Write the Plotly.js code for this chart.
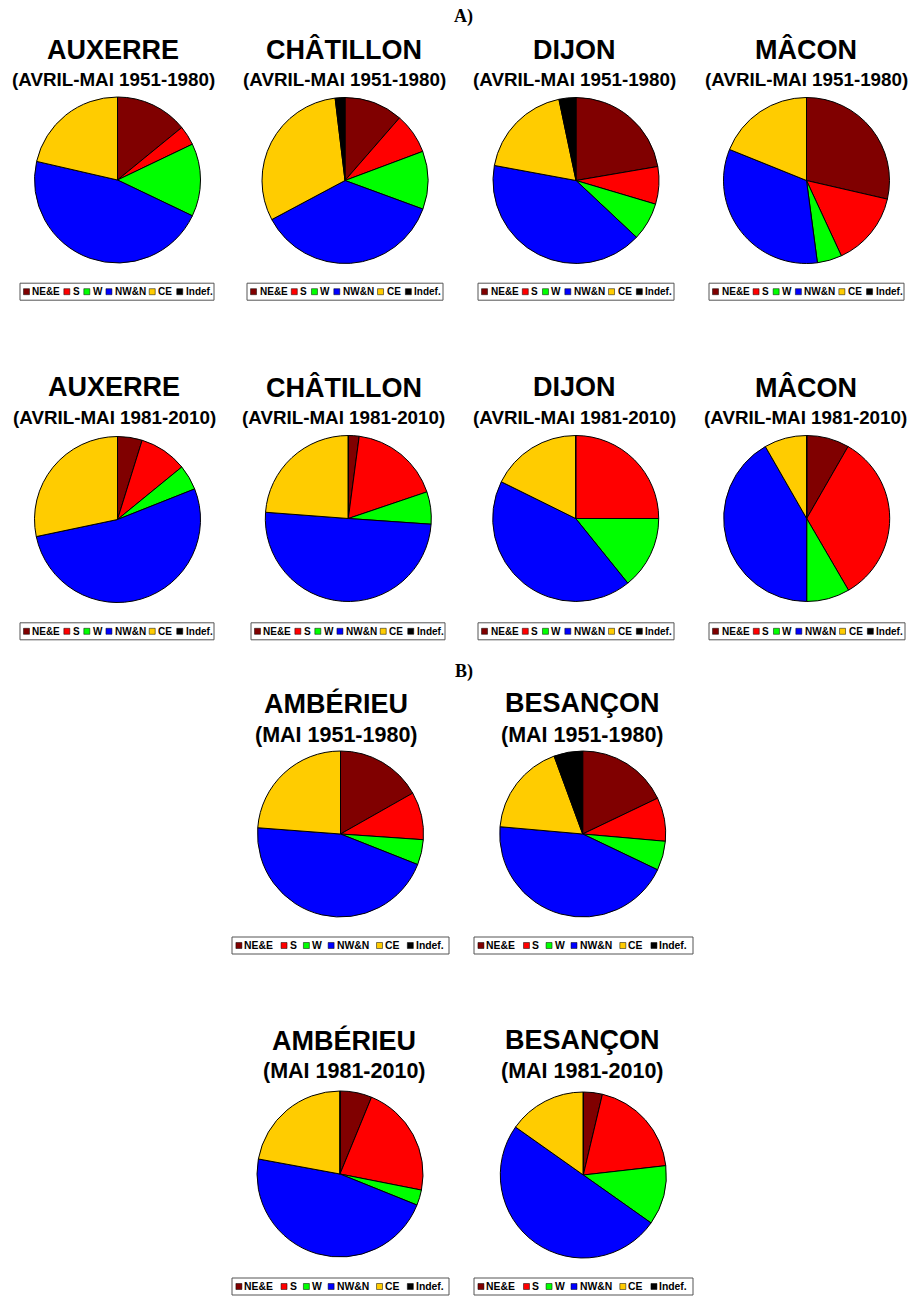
<!DOCTYPE html>
<html>
<head>
<meta charset="utf-8">
<script src="https://cdn.plot.ly/plotly-3.0.1.min.js"></script>
<style>html,body{margin:0;padding:0;background:#fff;}#chart{width:913px;height:1296px;}</style>
</head>
<body>
<div id="chart"></div>
<script>
// ---- DATA (percent of situations) ----
const categories = ['NE&E', 'S', 'W', 'NW&N', 'CE', 'Indef.'];
const colors = ['#800000', '#FF0000', '#00FF00', '#0000FF', '#FFCC00', '#000000'];

const auxerre_1951_1980   = [14.1, 3.8, 14.2, 46.5, 21.4, 0];
const chatillon_1951_1980 = [11.4, 7.9, 11.3, 36.6, 30.9, 1.9];
const dijon_1951_1980     = [22.3, 7.3, 7.4, 40.9, 18.8, 3.3];
const macon_1951_1980     = [28.6, 14.5, 4.8, 33.2, 18.9, 0];

const auxerre_1981_2010   = [4.8, 9.3, 4.9, 52.7, 28.3, 0];
const chatillon_1981_2010 = [2.1, 17.7, 6.3, 50.1, 23.8, 0];
const dijon_1981_2010     = [0, 25.0, 14.2, 43.1, 17.7, 0];
const macon_1981_2010     = [8.3, 33.3, 8.4, 41.7, 8.3, 0];

const amberieu_1951_1980  = [16.8, 9.3, 4.9, 45.2, 23.8, 0];
const besancon_1951_1980  = [17.9, 8.5, 5.7, 44.3, 18.0, 5.6];
const amberieu_1981_2010  = [6.2, 21.9, 3.0, 46.8, 22.1, 0];
const besancon_1981_2010  = [3.7, 19.5, 11.6, 50.0, 15.2, 0];

const stations = ['AUXERRE', 'CHÂTILLON', 'DIJON', 'MÂCON', 'AMBÉRIEU', 'BESANÇON'];
const periodsA = ['(AVRIL-MAI 1951-1980)', '(AVRIL-MAI 1981-2010)'];
const periodsB = ['(MAI 1951-1980)', '(MAI 1981-2010)'];
const sectionLabels = ['A)', 'B)'];

// ---- LAYOUT (pixel geometry) ----
const W = 913, H = 1296;
const fx = x => x / W;
const fy = y => 1 - y / H;
const R = 83;

const panels = [
  {st: 0, sub: periodsA[0], v: auxerre_1951_1980,   cx: 117.5, cy: 180,   tx: 113,   ty: 50,   sy: 79.5,  lx: [20, 214],  ly: 291.7, b: false},
  {st: 1, sub: periodsA[0], v: chatillon_1951_1980, cx: 345,   cy: 180.5, tx: 344,   ty: 50,   sy: 79.5,  lx: [247, 443], ly: 291.7, b: false},
  {st: 2, sub: periodsA[0], v: dijon_1951_1980,     cx: 576,   cy: 180.5, tx: 574,   ty: 50,   sy: 79.5,  lx: [478, 674], ly: 291.7, b: false},
  {st: 3, sub: periodsA[0], v: macon_1951_1980,     cx: 806.5, cy: 180.5, tx: 806,   ty: 50,   sy: 79.5,  lx: [709, 904], ly: 291.7, b: false},
  {st: 0, sub: periodsA[1], v: auxerre_1981_2010,   cx: 117.5, cy: 519.5, tx: 114,   ty: 387,  sy: 417.5, lx: [20, 214],  ly: 631.3, b: false},
  {st: 1, sub: periodsA[1], v: chatillon_1981_2010, cx: 348.3, cy: 518.5, tx: 343.7, ty: 387,  sy: 417.5, lx: [251, 445], ly: 631.3, b: false},
  {st: 2, sub: periodsA[1], v: dijon_1981_2010,     cx: 575.7, cy: 518.5, tx: 574,   ty: 387,  sy: 417.5, lx: [478, 674], ly: 631.3, b: false},
  {st: 3, sub: periodsA[1], v: macon_1981_2010,     cx: 806.7, cy: 518.5, tx: 805.5, ty: 387,  sy: 417.5, lx: [709, 905], ly: 631.3, b: false},
  {st: 4, sub: periodsB[0], v: amberieu_1951_1980,  cx: 340.5, cy: 834,   tx: 336.3, ty: 703.3, sy: 734.5, lx: [232, 449], ly: 945.5, b: true},
  {st: 5, sub: periodsB[0], v: besancon_1951_1980,  cx: 582.7, cy: 834,   tx: 582.7, ty: 703.3, sy: 734.5, lx: [474, 693], ly: 945.5, b: true},
  {st: 4, sub: periodsB[1], v: amberieu_1981_2010,  cx: 340,   cy: 1174,  tx: 344,   ty: 1040, sy: 1071,  lx: [232, 449], ly: 1286.5, b: true},
  {st: 5, sub: periodsB[1], v: besancon_1981_2010,  cx: 583.3, cy: 1175,  tx: 582.7, ty: 1040, sy: 1071,  lx: [474, 693], ly: 1286.5, b: true}
];

const legendFrac = [0.018, 0.226, 0.329, 0.443, 0.666, 0.808];
const SANS = 'Liberation Sans, Arial, sans-serif';

const traces = [];
const annotations = [];
const shapes = [];

panels.forEach(p => {
  traces.push({
    type: 'pie',
    labels: categories,
    values: p.v,
    sort: false,
    direction: 'clockwise',
    rotation: 0,
    textinfo: 'none',
    hoverinfo: 'label+percent',
    showlegend: false,
    marker: {colors: colors, line: {color: '#000000', width: 1}},
    domain: {x: [fx(p.cx - R), fx(p.cx + R)], y: [fy(p.cy + R), fy(p.cy - R)]}
  });
  annotations.push({
    xref: 'paper', yref: 'paper', x: fx(p.tx), y: fy(p.ty), xanchor: 'center', yanchor: 'middle',
    text: '<b>' + stations[p.st] + '</b>', showarrow: false,
    font: {family: SANS, size: 27, color: '#000'}
  });
  annotations.push({
    xref: 'paper', yref: 'paper', x: fx(p.tx), y: fy(p.sy), xanchor: 'center', yanchor: 'middle',
    text: '<b>' + p.sub + '</b>', showarrow: false,
    font: {family: SANS, size: p.b ? 21.5 : 18.8, color: '#000'}
  });
  // legend box
  const lw = p.lx[1] - p.lx[0];
  shapes.push({type: 'rect', xref: 'paper', yref: 'paper',
    x0: fx(p.lx[0]), x1: fx(p.lx[1]), y0: fy(p.ly + 8.5), y1: fy(p.ly - 8.5),
    line: {color: '#555555', width: 1}, fillcolor: 'rgba(0,0,0,0)'});
  categories.forEach((c, i) => {
    const sx = p.lx[0] + legendFrac[i] * lw;
    shapes.push({type: 'rect', xref: 'paper', yref: 'paper',
      x0: fx(sx), x1: fx(sx + 6), y0: fy(p.ly + 3), y1: fy(p.ly - 3),
      line: {width: 0.5, color: '#000000'}, fillcolor: colors[i]});
    annotations.push({
      xref: 'paper', yref: 'paper', x: fx(sx + (p.b ? 6.5 : 7)), y: fy(p.ly), xanchor: 'left', yanchor: 'middle',
      text: '<b>' + c + '</b>', showarrow: false,
      font: {family: SANS, size: p.b ? 10.4 : 10, color: '#000'}
    });
  });
});

// section labels
annotations.push({xref: 'paper', yref: 'paper', x: fx(463), y: fy(16), xanchor: 'center', yanchor: 'middle',
  text: '<b>' + sectionLabels[0] + '</b>', showarrow: false,
  font: {family: 'Liberation Serif, Times New Roman, serif', size: 18, color: '#000'}});
annotations.push({xref: 'paper', yref: 'paper', x: fx(463.5), y: fy(671), xanchor: 'center', yanchor: 'middle',
  text: '<b>' + sectionLabels[1] + '</b>', showarrow: false,
  font: {family: 'Liberation Serif, Times New Roman, serif', size: 18, color: '#000'}});

const layout = {
  width: W, height: H,
  margin: {l: 0, r: 0, t: 0, b: 0},
  paper_bgcolor: '#ffffff', plot_bgcolor: '#ffffff',
  showlegend: false,
  annotations: annotations,
  shapes: shapes
};

Plotly.newPlot('chart', traces, layout, {displayModeBar: false, staticPlot: true});
</script>
</body>
</html>
